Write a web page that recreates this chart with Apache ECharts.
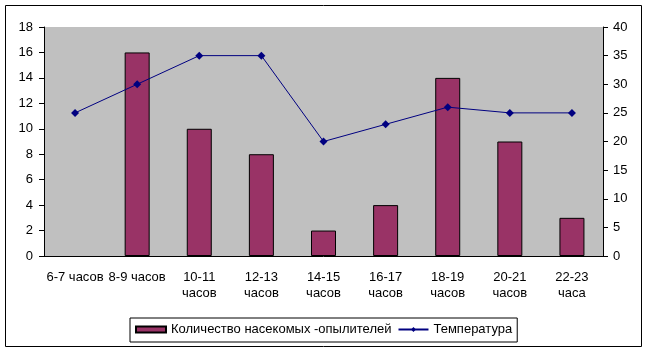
<!DOCTYPE html>
<html lang="ru">
<head>
    <meta charset="UTF-8">
    <title>Насекомые-опылители</title>
    <script src="https://cdn.jsdelivr.net/npm/echarts@6/dist/echarts.min.js"></script>
    <style>
        html, body { margin: 0; padding: 0; background: #fff; }
        #main { width: 648px; height: 353px; }
    </style>
</head>
<body>
<div id="main"></div>
<script>
    var hours = ['6-7 часов', '8-9 часов', '10-11\nчасов', '12-13\nчасов', '14-15\nчасов',
        '16-17\nчасов', '18-19\nчасов', '20-21\nчасов', '22-23\nчаса'];
    var insects = [0, 16, 10, 8, 2, 4, 14, 9, 3];
    var temperature = [25, 30, 35, 35, 20, 23, 26, 25, 25];

    var font = 'Liberation Sans, Arial, sans-serif';
    var myChart = echarts.init(document.getElementById('main'));

    // нулевой столбик в оригинале не виден
    var barData = insects.map(function (v) {
        return v === 0 ? { value: v, itemStyle: { borderWidth: 0 } } : v;
    });

    var option = {
        animation: false,
        textStyle: { fontFamily: font, color: '#000' },
        graphic: [{
            type: 'rect',
            shape: { x: 5.5, y: 5.5, width: 636, height: 341 },
            style: { fill: 'none', stroke: '#000', lineWidth: 1 }
        }],
        grid: {
            left: 44, right: 45, top: 27, bottom: 97,
            show: true, backgroundColor: '#c0c0c0', borderWidth: 0
        },
        legend: {
            left: 130, top: 318,
            padding: [5, 5, 6, 5],
            borderColor: '#000', borderWidth: 1,
            itemWidth: 30, itemHeight: 6, itemGap: 6,
            textStyle: { fontFamily: font, fontSize: 13, color: '#000' },
            data: [
                { name: 'Количество насекомых -опылителей', icon: 'rect' },
                { name: 'Температура' }
            ]
        },
        xAxis: {
            type: 'category',
            data: hours,
            axisLine: { lineStyle: { color: '#000' } },
            axisTick: { length: 6, lineStyle: { color: '#000' } },
            axisLabel: { interval: 0, color: '#000', fontSize: 13, lineHeight: 16, margin: 13, fontFamily: font }
        },
        yAxis: [{
            type: 'value', min: 0, max: 18, interval: 2,
            axisLine: { show: true, lineStyle: { color: '#000' } },
            axisTick: { show: true, length: 5, lineStyle: { color: '#000' } },
            splitLine: { show: false },
            axisLabel: { color: '#000', fontSize: 13, margin: 11, fontFamily: font }
        }, {
            type: 'value', min: 0, max: 40, interval: 5,
            axisLine: { show: true, lineStyle: { color: '#000' } },
            axisTick: { show: true, length: 5, lineStyle: { color: '#000' } },
            splitLine: { show: false },
            axisLabel: { color: '#000', fontSize: 13, margin: 10, fontFamily: font }
        }],
        series: [{
            name: 'Количество насекомых -опылителей',
            type: 'bar',
            data: barData,
            barWidth: 25,
            itemStyle: { color: '#993366', borderColor: '#000', borderWidth: 1 }
        }, {
            name: 'Температура',
            type: 'line',
            yAxisIndex: 1,
            data: temperature,
            symbol: 'diamond',
            symbolSize: 8,
            lineStyle: { color: '#000080', width: 1 },
            itemStyle: { color: '#000080' }
        }]
    };

    myChart.setOption(option);
</script>
</body>
</html>
